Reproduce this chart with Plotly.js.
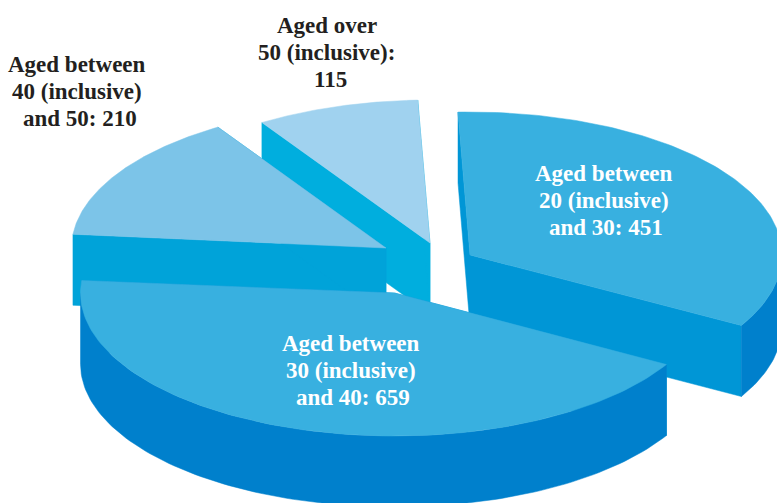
<!DOCTYPE html>
<html><head><meta charset="utf-8">
<script src="https://cdn.plot.ly/plotly-3.0.1.min.js"></script>
<style>html,body{margin:0;padding:0;background:#fff}#c{width:777px;height:503px}</style>
</head><body><div id="c"></div>
<script>
const categories = ["Aged between 20 (inclusive) and 30", "Aged between 30 (inclusive) and 40", "Aged between 40 (inclusive) and 50", "Aged over 50 (inclusive)"];
const values = [451, 659, 210, 115];
const labelLines = [
  ["Aged between","20 (inclusive)","and 30: 451"],
  ["Aged between","30 (inclusive)","and 40: 659"],
  ["Aged between","40 (inclusive)","and 50: 210"],
  ["Aged over","50 (inclusive):","115"]
];

// projection settings of the tilted exploded pie
const ry = 143, depth = 71, lineGap = 27;
const geom = [
  {apex:[470,255], rx:312, start:-92.2, stretch:121.7/113.1, top:"#38b0e0", radial:"#0096d6", arc:"#0080cc", label:[604,173], shift:[0,0,2], color:"#fff"},
  {apex:[394.5,293], rx:314, start:30,  stretch:155/165.3, top:"#38b0e0", radial:"#0096d6", arc:"#0080cc", label:[351,343], shift:[0,0,2], color:"#fff"},
  {apex:[386,248], rx:314.5, start:185.5, stretch:52.2/52.7,   top:"#7cc4e8", radial:"#00a3d9", arc:"#00a3d9", label:[76.5,64],  shift:[0,0,3], color:"#231f20"},
  {apex:[430,243], rx:312, start:237.4, stretch:30.4/28.9, top:"#a0d2ef", radial:"#00aede", arc:"#00aede", label:[326.5,25], shift:[0.5,0,3.5], color:"#231f20"}
];
const total = values.reduce((a,b)=>a+b,0);
const rad = d=>d*Math.PI/180;

function pt(g,t,dz){ return [g.apex[0]+g.rx*Math.cos(rad(t)), g.apex[1]+ry*Math.sin(rad(t))+(dz||0)]; }
function poly(pts,color,name){
  return {type:"scatter",mode:"lines",x:pts.map(p=>p[0]),y:pts.map(p=>p[1]),fill:"toself",fillcolor:color,
    line:{width:0.5,color:color},hoverinfo:"text",text:name,showlegend:false};
}
const traces=[];
[3,2,0,1].forEach(i=>{
  const g=geom[i], span=values[i]/total*360*g.stretch, a0=g.start, a1=g.start+span, nm=categories[i]+": "+values[i];
  const A=[g.apex[0],g.apex[1]], B=[g.apex[0],g.apex[1]+depth];
  // radial walls
  [a0,a1].forEach(a=>{
    traces.push(poly([A,pt(g,a),pt(g,a,depth),B,A],g.radial,nm));
  });
  // outer wall (front half only)
  const arcT=[];
  for(let k=0;k<=120;k++){const t=a0+span*k/120; const s=((t%360)+360)%360; if(s>=0&&s<=180) arcT.push(t);}
  if(arcT.length>1){
    const up=arcT.map(t=>pt(g,t)), dn=arcT.slice().reverse().map(t=>pt(g,t,depth));
    traces.push(poly(up.concat(dn,[up[0]]),g.arc,nm));
  }
  // top face
  const top=[A];
  for(let k=0;k<=120;k++) top.push(pt(g,a0+span*k/120));
  top.push(A);
  traces.push(poly(top,g.top,nm));
});

const annotations=[];
labelLines.forEach((lines,i)=>{
  lines.forEach((ln,j)=>{
    annotations.push({x:geom[i].label[0]+geom[i].shift[j],y:geom[i].label[1]+j*lineGap,xref:"x",yref:"y",showarrow:false,
      text:"<b>"+ln+"</b>",font:{family:"Liberation Serif",size:23,color:geom[i].color}});
  });
});

Plotly.newPlot("c",traces,{
  width:777,height:503,margin:{l:0,r:0,t:0,b:0},paper_bgcolor:"#fff",plot_bgcolor:"#fff",showlegend:false,
  xaxis:{range:[0,777],visible:false,fixedrange:true},
  yaxis:{range:[503,0],visible:false,fixedrange:true},
  annotations:annotations
},{displayModeBar:false,staticPlot:true});
</script></body></html>
